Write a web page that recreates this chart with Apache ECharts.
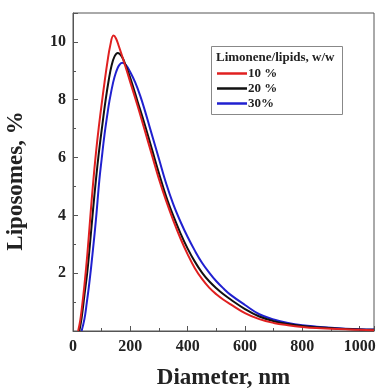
<!DOCTYPE html>
<html>
<head>
<meta charset="utf-8">
<script src="https://cdn.jsdelivr.net/npm/echarts@6/dist/echarts.min.js"></script>
<style>
  html, body { margin: 0; padding: 0; background: #fff; }
  #chart { width: 379px; height: 392px; }
</style>
</head>
<body>
<div id="chart"></div>
<script>
// Size distributions of liposomes for three limonene/lipid ratios
var seriesNames = ['10 %', '20 %', '30%'];
var seriesColors = ['#e02020', '#111111', '#2020d0'];

// 10 % limonene
var diam10 = [18, 25, 30, 40, 50, 60, 70, 80, 90, 100, 110, 120, 130, 141, 150, 160, 175, 200, 225, 250, 275, 300, 325, 350, 375, 400, 425, 450, 475, 500, 525, 550, 600, 650, 700, 750, 800, 850, 900, 950, 1000, 1050];
var pct10 = [0, 0.35, 0.72, 1.6, 2.65, 3.9, 5.1, 6.15, 7.05, 7.85, 8.6, 9.3, 9.88, 10.22, 10.12, 9.85, 9.4, 8.6, 7.8, 6.95, 6.1, 5.25, 4.5, 3.82, 3.2, 2.65, 2.17, 1.8, 1.5, 1.27, 1.08, 0.92, 0.62, 0.41, 0.28, 0.2, 0.14, 0.1, 0.08, 0.06, 0.04, 0.03];

// 20 % limonene
var diam20 = [22, 30, 40, 50, 60, 70, 80, 90, 100, 114, 125, 135, 145, 156, 170, 185, 200, 225, 250, 275, 300, 325, 350, 375, 400, 425, 450, 475, 500, 525, 550, 600, 650, 700, 750, 800, 850, 900, 950, 1000, 1050];
var pct20 = [0, 0.45, 1.25, 2.05, 3.1, 4.2, 5.23, 6.15, 6.95, 8.0, 8.7, 9.2, 9.5, 9.62, 9.5, 9.15, 8.75, 7.95, 7.15, 6.3, 5.45, 4.65, 3.98, 3.38, 2.85, 2.4, 2.02, 1.72, 1.48, 1.27, 1.09, 0.76, 0.5, 0.34, 0.24, 0.17, 0.13, 0.1, 0.07, 0.05, 0.04];

// 30 % limonene
var diam30 = [30, 40, 48, 55, 62, 70, 80, 92, 100, 110, 120, 127, 140, 150, 160, 172, 185, 200, 217, 234, 250, 269, 300, 325, 350, 375, 400, 425, 450, 475, 500, 525, 550, 600, 650, 700, 750, 800, 850, 900, 950, 1000, 1050];
var pct30 = [0, 0.42, 0.97, 1.5, 2.1, 2.85, 3.85, 5.23, 5.95, 6.8, 7.5, 7.95, 8.6, 8.95, 9.18, 9.28, 9.2, 8.95, 8.6, 8.15, 7.65, 7.0, 5.95, 5.1, 4.38, 3.78, 3.25, 2.78, 2.36, 2.02, 1.72, 1.47, 1.25, 0.9, 0.58, 0.4, 0.28, 0.2, 0.15, 0.11, 0.08, 0.06, 0.05];

var xTicks = [0, 200, 400, 600, 800, 1000];
var yTicks = [2, 4, 6, 8, 10];

function pairs(xs, ys) {
  return xs.map(function (x, i) { return [x, ys[i]]; });
}

var serif = '"Liberation Serif", "Times New Roman", serif';
var axisColor = '#555';

var chart = echarts.init(document.getElementById('chart'), null, { renderer: 'canvas' });

var allDiam = [diam10, diam20, diam30];
var allPct = [pct10, pct20, pct30];

chart.setOption({
  animation: false,
  backgroundColor: '#fff',
  grid: {
    left: 73, right: 5, top: 13, bottom: 61,
    outerBoundsMode: 'none',
    show: true, borderColor: axisColor, borderWidth: 1, backgroundColor: 'transparent'
  },
  xAxis: {
    type: 'value', min: 0, max: 1050, interval: 200,
    name: 'Diameter, nm', nameLocation: 'middle', nameGap: 36,
    nameTextStyle: { fontFamily: serif, fontWeight: 'bold', fontSize: 23, color: '#222' },
    axisLine: { lineStyle: { color: axisColor, width: 1 } },
    axisTick: { inside: true, length: 5, lineStyle: { color: axisColor } },
    minorTick: { show: true, splitNumber: 2, length: 3, lineStyle: { color: axisColor } },
    splitLine: { show: false },
    axisLabel: {
      fontFamily: serif, fontWeight: 'bold', fontSize: 16, color: '#222', margin: 8,
      showMaxLabel: false,
      formatter: function (v) { return xTicks.indexOf(v) >= 0 ? String(v) : ''; }
    }
  },
  yAxis: {
    type: 'value', min: 0, max: 11, interval: 2,
    name: 'Liposomes, %', nameLocation: 'middle', nameGap: 45, nameRotate: 90,
    nameTextStyle: { fontFamily: serif, fontWeight: 'bold', fontSize: 23, color: '#222', padding: [0, 18, 0, 0] },
    axisLine: { show: true, lineStyle: { color: axisColor, width: 1 } },
    axisTick: { show: true, inside: true, length: 5, lineStyle: { color: axisColor } },
    minorTick: { show: true, splitNumber: 2, length: 3, lineStyle: { color: axisColor } },
    splitLine: { show: false },
    axisLabel: {
      fontFamily: serif, fontWeight: 'bold', fontSize: 16, color: '#222', margin: 7,
      showMinLabel: false, showMaxLabel: false,
      formatter: function (v) { return yTicks.indexOf(v) >= 0 ? String(v) : ''; }
    }
  },
  legend: {
    orient: 'vertical', left: 217, top: 67,
    icon: 'rect', itemWidth: 30, itemHeight: 2.5, itemGap: 2,
    padding: 0,
    textStyle: { fontFamily: serif, fontWeight: 'bold', fontSize: 13, color: '#222', padding: [0, 0, 0, -4] },
    data: seriesNames
  },
  graphic: [
    {
      type: 'rect', left: 211, top: 46, z: 10,
      shape: { width: 131, height: 68 },
      style: { fill: 'transparent', stroke: '#888', lineWidth: 1 }
    },
    {
      type: 'text', left: 216, top: 51, z: 10,
      style: { text: 'Limonene/lipids, w/w', fill: '#222', font: 'bold 13px ' + serif }
    }
  ],
  series: seriesNames.map(function (name, i) {
    return {
      name: name, type: 'line',
      data: pairs(allDiam[i], allPct[i]),
      showSymbol: false, symbol: 'none',
      smooth: 0.4,
      lineStyle: { color: seriesColors[i], width: 2 },
      itemStyle: { color: seriesColors[i] },
      z: 3 - i
    };
  })
});
</script>
</body>
</html>
